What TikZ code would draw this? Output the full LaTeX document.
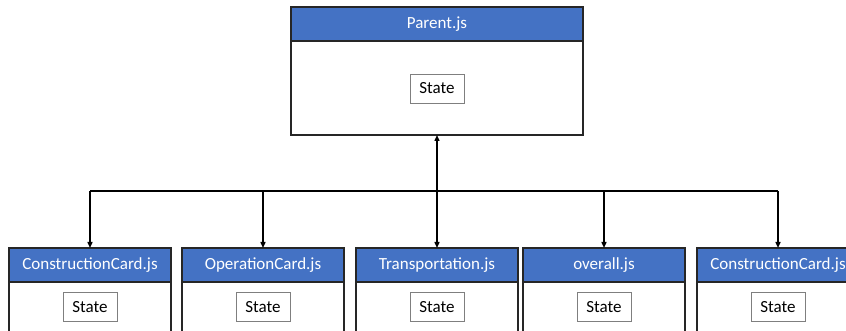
\documentclass[tikz,border=0pt]{standalone}
\usepackage{fontspec}
\setmainfont{Carlito}
\usetikzlibrary{arrows.meta}
\definecolor{hdrblue}{HTML}{4472C4}
\definecolor{boxline}{HTML}{262626}
\definecolor{stateline}{HTML}{7F7F7F}
\begin{document}
\begin{tikzpicture}[x=1pt,y=-1pt,
  every node/.style={inner sep=0pt, outer sep=0pt, font=\fontsize{17}{20}\selectfont},
  compbody/.style={draw=boxline, line width=1.3pt, fill=white, anchor=north west, minimum width=#1},
  comphead/.style={draw=boxline, line width=1.3pt, fill=hdrblue, text=white, anchor=north west,
                   minimum width=#1, minimum height=34pt},
  statebox/.style={draw=stateline, line width=0.9pt, fill=white, minimum width=54pt, minimum height=29pt},
  link/.style={line width=1.4pt, black},
  arr/.style={link, -{Triangle[length=6pt,width=5pt]}}
]
\useasboundingbox (0,0) rectangle (846,331);
\fill[white] (0,0) rectangle (846,331);
\clip (0,0) rectangle (846,331);

% parent component
\node[compbody=292pt, minimum height=128pt] (parent) at (291,7) {};
\node[comphead=292pt] (parenthead) at (291,7) {Parent.js};
\node[statebox] (pstate) at (437,88.5) {State};

% child components
\foreach \n/\x/\name in {1/9/ConstructionCard.js, 2/182/OperationCard.js, 3/356/Transportation.js,
                          4/523/overall.js, 5/697/ConstructionCard.js}{
  \node[compbody=162pt, minimum height=110pt] (c\n) at (\x,248) {};
  \node[comphead=162pt] (c\n head) at (\x,248) {\name};
  \node[statebox] (s\n) at ([yshift=-59pt]c\n head.north) {State};
}

% connectors
\coordinate (bus) at (c3head.north |- 0,191);
\draw[link] (c1head.north |- bus) -- (c5head.north |- bus);
\draw[arr] (bus) -- (parent.south);
\foreach \n in {1,...,5}{
  \draw[arr] (c\n head.north |- bus) -- (c\n head.north);
}
\end{tikzpicture}
\end{document}
